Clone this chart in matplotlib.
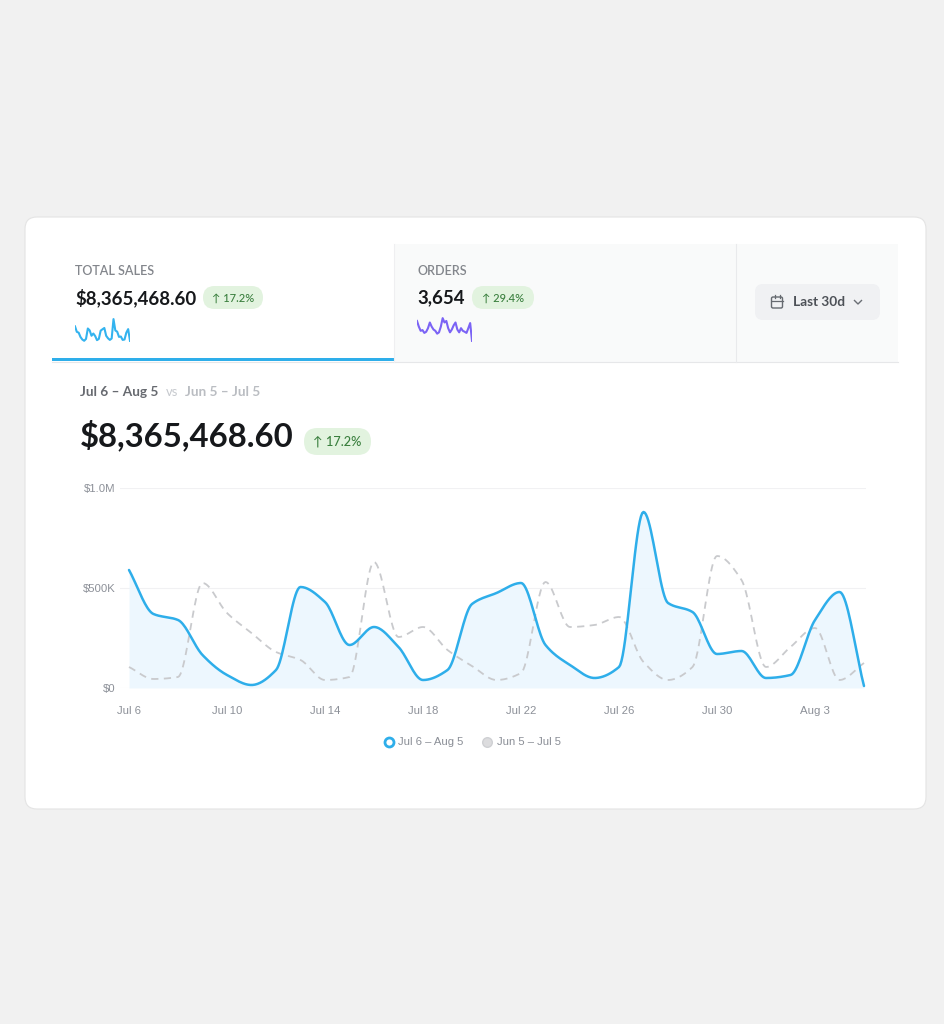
import matplotlib
matplotlib.use("Agg")
import matplotlib.pyplot as plt
from matplotlib.patches import FancyBboxPatch, Rectangle
import numpy as np

W, H = 945, 1024

# daily sales, Jul 6 - Aug 5 (dollars)
sales = [590000, 370000, 340000, 165000, 65000, 15000, 90000, 505000, 430000, 215000,
         305000, 205000, 40000, 90000, 420000, 475000, 525000, 215000, 115000, 50000,
         105000, 880000, 425000, 380000, 170000, 185000, 50000, 65000, 340000, 480000, 10000]
# previous period, Jun 5 - Jul 5
prev_sales = [105000, 45000, 55000, 525000, 375000, 275000, 180000, 140000, 40000, 55000,
              630000, 255000, 305000, 190000, 110000, 40000, 75000, 530000, 305000, 315000,
              355000, 130000, 40000, 105000, 660000, 540000, 105000, 205000, 300000, 40000, 125000]
# daily orders (sparkline)
orders = [172, 142, 120, 124, 109, 115, 134, 164, 142, 127, 120, 105, 112, 142, 187, 164,
          172, 134, 112, 127, 149, 164, 127, 112, 134, 120, 115, 109, 134, 161, 67]

tick_days = [0, 4, 8, 12, 16, 20, 24, 28]
tick_labels = ["Jul 6", "Jul 10", "Jul 14", "Jul 18", "Jul 22", "Jul 26", "Jul 30", "Aug 3"]
y_ticks = [0, 500000, 1000000]
y_labels = ["$0", "$500K", "$1.0M"]

UI = ["Lato", "DejaVu Sans"]
AX = ["Liberation Sans", "DejaVu Sans"]
BLUE = "#2eaeea"
GREEN_BG = "#e2f3df"
GREEN_TX = "#3a7f3e"


def monotone(y, n=20):
    """monotone cubic (Fritsch-Carlson) through points at x = 0..len-1"""
    y = np.asarray(y, dtype=float)
    x = np.arange(len(y), dtype=float)
    d = np.diff(y)
    m = np.zeros(len(y))
    for i in range(1, len(y) - 1):
        if d[i - 1] * d[i] > 0:
            m[i] = 2 / (1 / d[i - 1] + 1 / d[i])
    m[0], m[-1] = d[0], d[-1]
    xs, ys = [], []
    for i in range(len(y) - 1):
        t = np.linspace(0, 1, n, endpoint=False)
        h00 = 2 * t**3 - 3 * t**2 + 1
        h10 = t**3 - 2 * t**2 + t
        h01 = -2 * t**3 + 3 * t**2
        h11 = t**3 - t**2
        xs.append(x[i] + t)
        ys.append(h00 * y[i] + h10 * m[i] + h01 * y[i + 1] + h11 * m[i + 1])
    xs.append([x[-1]])
    ys.append([y[-1]])
    return np.concatenate(xs), np.concatenate(ys)


def fig_rect(x0, y0, x1, y1):
    return [x0 / W, 1 - y1 / H, (x1 - x0) / W, (y1 - y0) / H]


fig = plt.figure(figsize=(W / 100, H / 100), dpi=100)
fig.patch.set_facecolor("#f1f1f1")

bg = fig.add_axes([0, 0, 1, 1])
bg.set_xlim(0, W)
bg.set_ylim(H, 0)
bg.axis("off")

# card
bg.add_patch(FancyBboxPatch((25, 217), 901, 592, boxstyle="round,pad=0,rounding_size=12",
                            facecolor="white", edgecolor="#e4e4e4", linewidth=0.8))
# tabs
bg.add_patch(Rectangle((394, 244), 504, 118, facecolor="#f9fafa", edgecolor="none"))
bg.plot([52, 898], [362, 362], color="#e6e7e9", lw=0.8)
bg.plot([394, 394], [244, 362], color="#efeff1", lw=0.8)
bg.plot([736, 736], [244, 362], color="#e9eaec", lw=0.8)
bg.add_patch(Rectangle((52, 357.5), 342, 3.2, facecolor=BLUE, edgecolor="none"))

bg.text(75, 271, "TOTAL SALES", family=UI, fontsize=9.0, weight="semibold", color="#83868c", va="center")
bg.text(75, 298, "$8,365,468.60", family=UI, fontsize=13.4, weight="bold", color="#16181b", va="center")
bg.text(417, 271, "ORDERS", family=UI, fontsize=9.0, weight="semibold", color="#83868c", va="center")
bg.text(417, 298, "3,654", family=UI, fontsize=13.4, weight="bold", color="#16181b", va="center")


def badge(x0, y0, x1, y1, label, size):
    bg.add_patch(FancyBboxPatch((x0, y0), x1 - x0, y1 - y0,
                                boxstyle="round,pad=0,rounding_size=%f" % ((y1 - y0) / 2),
                                facecolor=GREEN_BG, edgecolor="none"))
    bg.text((x0 + x1) / 2, (y0 + y1) / 2 + 0.5, label, family=UI, fontsize=size,
            weight="medium", color=GREEN_TX, ha="center", va="center")


badge(203, 286, 263, 309, "\u2191 17.2%", 8.0)
badge(472, 286, 534, 309, "\u2191 29.4%", 8.0)

# date button
bg.add_patch(FancyBboxPatch((755, 284), 125, 36, boxstyle="round,pad=0,rounding_size=8",
                            facecolor="#f0f1f3", edgecolor="none"))
bg.add_patch(FancyBboxPatch((771.5, 297), 11, 11, boxstyle="round,pad=0,rounding_size=1.5",
                            facecolor="none", edgecolor="#666a70", linewidth=1))
bg.plot([771.5, 782.5], [300.5, 300.5], color="#666a70", lw=0.9)
bg.plot([774.5, 774.5], [295, 298], color="#666a70", lw=0.9)
bg.plot([779.5, 779.5], [295, 298], color="#666a70", lw=0.9)
bg.text(793, 302, "Last 30d", family=UI, fontsize=9.8, weight="bold", color="#4d5157", va="center")
bg.plot([854.5, 858, 861.5], [300.5, 304, 300.5], color="#6a6e74", lw=1)

# headline
bg.text(80, 392, "Jul 6 \u2013 Aug 5", family=UI, fontsize=9.8, weight="bold", color="#676a70", va="center")
bg.text(166, 392, "vs", family=UI, fontsize=9.4, color="#c6c9ce", va="center")
bg.text(185, 392, "Jun 5 \u2013 Jul 5", family=UI, fontsize=9.8, weight="bold", color="#babdc2", va="center")
bg.text(80, 435, "$8,365,468.60", family=UI, fontsize=23.7, weight="bold", color="#16181b", va="center")
badge(304, 428, 371, 455, "\u2191 17.2%", 9.2)

# legend
bg.scatter([389], [742], s=42, facecolor="white", edgecolor=BLUE, linewidth=2, zorder=3)
bg.text(398, 742, "Jul 6 \u2013 Aug 5", family=AX, fontsize=8.1, color="#8a8e96", va="center")
bg.scatter([487], [742], s=48, facecolor="#dcdcde", edgecolor="#cfd0d3", linewidth=1, zorder=3)
bg.text(497, 742, "Jun 5 \u2013 Jul 5", family=AX, fontsize=8.1, color="#8a8e96", va="center")

# sparklines
days = np.arange(len(sales))
sp1 = fig.add_axes(fig_rect(75, 318, 130, 342))
sp1.plot(days, sales, color="#33b3ef", lw=1.5, solid_joinstyle="round")
sp1.set_xlim(0, len(sales) - 1)
sp1.axis("off")
sp2 = fig.add_axes(fig_rect(417, 317, 472, 342))
sp2.plot(days, orders, color="#7b63f5", lw=1.5, solid_joinstyle="round")
sp2.set_xlim(0, len(orders) - 1)
sp2.axis("off")

# main chart
px_day = 24.5
ax = fig.add_axes(fig_rect(120, 488, 866, 688))
ax.set_xlim(-9 / px_day, 30 + 2 / px_day)
ax.set_ylim(0, 1000000)
ax.patch.set_alpha(0)
for s in ax.spines.values():
    s.set_visible(False)

xs, ys = monotone(sales)
pxs, pys = monotone(prev_sales)
ax.fill_between(xs, 0, ys, color="#eaf6fe", alpha=0.85, lw=0, zorder=1)
ax.plot(pxs, pys, color="#c9cacd", lw=1.3, dashes=(4, 3), zorder=2, clip_on=False)
ax.plot(xs, ys, color=BLUE, lw=1.8, zorder=3, clip_on=False, solid_capstyle="round")

ax.set_yticks(y_ticks)
ax.set_yticklabels(y_labels)
ax.set_xticks(tick_days)
ax.set_xticklabels(tick_labels)
ax.tick_params(length=0, labelsize=8.2, labelcolor="#8c9098")
ax.tick_params(axis="x", pad=13)
ax.tick_params(axis="y", pad=3)
for lab in ax.get_xticklabels() + ax.get_yticklabels():
    lab.set_family(AX)
ax.grid(axis="y", color="#f1f1f3", lw=0.8)
ax.set_axisbelow(True)

fig.savefig("out.png", dpi=100, facecolor=fig.get_facecolor())
